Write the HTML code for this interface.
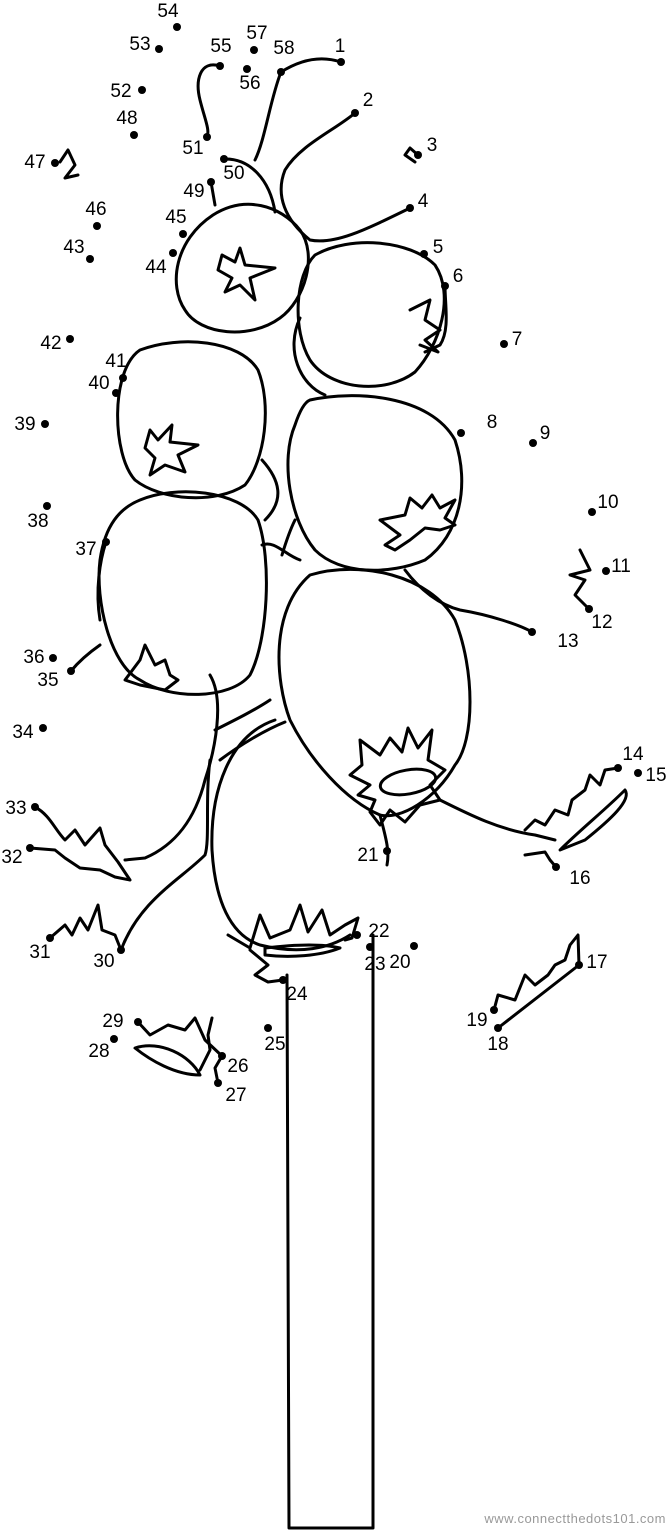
<!DOCTYPE html>
<html><head><meta charset="utf-8"><style>
html,body{margin:0;padding:0;background:#fff;}
svg{display:block;}
text{font-family:"Liberation Sans",sans-serif;font-size:19px;fill:#000;}
.l{fill:none;stroke:#000;stroke-width:3;stroke-linejoin:round;stroke-linecap:round;}
.t{fill:none;stroke:#000;stroke-width:1.5;}
</style></head><body>
<svg width="669" height="1531" viewBox="0 0 669 1531">
<!-- stem -->
<path class="l" d="M287 975 L289 1528 L373 1528 L373 935"/>
<!-- top berry -->
<path class="l" d="M213 215 C245 195 280 205 300 230 C318 255 305 300 280 318 C250 340 200 335 185 310 C168 285 175 240 213 215Z"/>
<path class="l" d="M222 255 L235 262 L240 248 L245 265 L275 268 L250 278 L255 300 L240 285 L225 292 L232 278 L218 270Z"/>
<!-- berry right 2 -->
<path class="l" d="M315 255 C350 235 410 240 435 265 C455 295 440 345 415 372 C385 395 330 390 310 360 C292 330 295 275 315 255Z"/>
<path class="l" d="M300 318 C285 350 300 385 325 395"/>
<path class="l" d="M410 310 L430 300 L425 320 L440 330 L425 340 L438 352 L420 345"/>
<!-- berry left 2 -->
<path class="l" d="M140 350 C180 335 240 340 258 370 C272 405 265 460 245 485 C215 505 160 500 135 480 C112 455 110 370 140 350Z"/>
<path class="l" d="M150 430 L158 440 L172 425 L170 442 L198 445 L178 455 L185 472 L165 465 L150 475 L155 458 L145 448Z"/>
<!-- berry mid right -->
<path class="l" d="M310 400 C355 390 430 395 455 440 C470 485 460 535 425 560 C390 575 340 575 315 550 C290 520 280 460 295 425 C300 410 305 402 310 400Z"/>
<path class="l" d="M380 520 L405 515 L410 498 L422 508 L432 495 L440 508 L455 500 L445 518 L455 525 L440 530 L425 528 L410 540 L395 550 L385 545 L400 535 Z"/>
<!-- berry left 3 -->
<path class="l" d="M140 500 C175 485 240 490 258 520 C272 560 268 640 250 675 C230 700 170 700 140 680 C110 665 95 600 100 560 C105 525 120 508 140 500Z"/>
<path class="l" d="M125 680 L140 660 L145 645 L155 665 L165 660 L170 675 L178 680 L165 690 L140 685Z"/>
<path class="l" d="M262 460 C280 480 285 500 265 520"/>
<!-- big berry -->
<path class="l" d="M310 575 C360 560 430 575 455 620 C475 670 475 740 455 765 C435 800 400 820 380 815 C345 800 310 760 290 720 C275 680 270 610 310 575Z"/>
<path class="l" d="M360 740 L380 755 L390 738 L402 752 L408 728 L418 748 L432 730 L428 760 L445 770 L430 785 L440 800 L420 805 L405 822 L390 810 L380 825 L370 812 L375 800 L358 795 L370 785 L350 775 L362 765 Z"/>
<ellipse class="l" cx="408" cy="782" rx="28" ry="12" transform="rotate(-10 408 782)"/>
<!-- lower berry -->
<path class="l" d="M275 720 C230 735 210 790 212 850 C215 900 230 935 260 945 C300 955 330 948 350 935"/>
<path class="l" d="M228 935 L250 948 L260 915 L270 938 L290 930 L300 905 L308 932 L322 910 L330 935 L345 925 L358 918 L352 938 L345 940"/>
<path class="l" d="M265 948 C290 945 320 943 340 948 C320 956 290 958 265 955Z"/>
<path class="l" d="M250 950 L268 965 L255 975 L268 982 L283 980"/>
<!-- branches -->
<path class="l" d="M281 72 C270 100 265 140 255 160"/>
<path class="l" d="M281 72 C300 60 320 55 341 62"/>
<path class="l" d="M355 113 C335 130 300 145 285 170 C275 195 285 220 310 240 C335 245 365 230 410 208"/>
<path class="l" d="M220 66 C200 60 195 80 200 100 C205 120 210 130 207 137"/>
<path class="l" d="M224 159 C250 158 270 180 275 212"/>
<path class="l" d="M211 182 L215 205"/>
<path class="l" d="M445 286 C445 305 450 330 440 345 L425 352"/>
<path class="l" d="M405 570 C420 590 440 605 460 610 C490 615 520 625 532 632"/>
<path class="l" d="M106 542 C100 560 95 590 100 620"/>
<path class="l" d="M71 671 C80 660 90 652 100 645"/>
<path class="l" d="M210 675 C225 700 215 750 205 780 C195 820 175 845 145 858 L125 860"/>
<path class="l" d="M210 760 C205 800 210 840 205 855 C180 880 140 900 121 950"/>
<path class="l" d="M215 730 C235 720 255 710 270 700"/>
<path class="l" d="M220 760 C240 745 265 730 285 722"/>
<path class="l" d="M262 545 C275 540 285 555 300 560"/>
<path class="l" d="M295 520 C290 530 285 545 282 555"/>
<path class="l" d="M440 800 C470 815 500 830 535 835 L555 840"/>
<path class="l" d="M380 815 C385 835 390 850 387 865"/>
<!-- leaves -->
<path class="l" d="M35 807 C50 815 55 830 65 840 L75 830 L85 845 L100 828 L105 845 L118 862 L130 880 L115 877 L100 870 L80 868 L65 858 L55 850 L30 848"/>
<path class="l" d="M50 938 L65 925 L72 935 L80 918 L88 930 L98 905 L102 930 L115 935 L121 950"/>
<path class="l" d="M525 830 L535 820 L545 825 L555 810 L568 815 L572 800 L585 790 L590 775 L600 785 L605 770 L618 768"/>
<path class="l" d="M525 855 L545 852 L550 860 L556 867"/>
<path class="l" d="M560 850 C580 830 605 810 625 790 C632 800 610 820 585 840 Z"/>
<path class="l" d="M494 1010 L498 995 L515 1000 L525 975 L535 985 L548 975 L555 965 L565 960 L570 945 L578 935 L579 965"/>
<path class="l" d="M498 1028 L579 965"/>
<path class="l" d="M138 1022 L150 1035 L168 1025 L185 1030 L195 1018 L205 1040 L222 1056"/>
<path class="l" d="M135 1048 C160 1040 190 1055 200 1075 C175 1075 150 1060 135 1048Z"/>
<path class="l" d="M200 1070 L210 1050 L208 1035 L212 1018"/>
<path class="l" d="M222 1056 L215 1068 L218 1083"/>
<path class="l" d="M418 155 L410 148 L405 155 L415 162"/>
<path class="l" d="M60 162 L68 150 L75 165 L65 178 L78 175"/>
<path class="l" d="M580 550 L590 570 L570 575 L585 580 L575 595 L589 609"/>
<!-- dots -->
<g fill="#000">
<circle cx="341" cy="62" r="4"/><circle cx="355" cy="113" r="4"/><circle cx="418" cy="155" r="4"/><circle cx="410" cy="208" r="4"/>
<circle cx="424" cy="254" r="4"/><circle cx="445" cy="286" r="4"/><circle cx="504" cy="344" r="4"/><circle cx="461" cy="433" r="4"/>
<circle cx="533" cy="443" r="4"/><circle cx="592" cy="512" r="4"/><circle cx="606" cy="571" r="4"/><circle cx="589" cy="609" r="4"/>
<circle cx="532" cy="632" r="4"/><circle cx="618" cy="768" r="4"/><circle cx="638" cy="773" r="4"/><circle cx="556" cy="867" r="4"/>
<circle cx="579" cy="965" r="4"/><circle cx="498" cy="1028" r="4"/><circle cx="494" cy="1010" r="4"/><circle cx="414" cy="946" r="4"/>
<circle cx="387" cy="851" r="4"/><circle cx="357" cy="935" r="4"/><circle cx="370" cy="947" r="4"/><circle cx="283" cy="980" r="4"/>
<circle cx="268" cy="1028" r="4"/><circle cx="222" cy="1056" r="4"/><circle cx="218" cy="1083" r="4"/><circle cx="114" cy="1039" r="4"/>
<circle cx="138" cy="1022" r="4"/><circle cx="121" cy="950" r="4"/><circle cx="50" cy="938" r="4"/><circle cx="30" cy="848" r="4"/>
<circle cx="35" cy="807" r="4"/><circle cx="43" cy="728" r="4"/><circle cx="71" cy="671" r="4"/><circle cx="53" cy="658" r="4"/>
<circle cx="106" cy="542" r="4"/><circle cx="47" cy="506" r="4"/><circle cx="45" cy="424" r="4"/><circle cx="116" cy="393" r="4"/>
<circle cx="123" cy="378" r="4"/><circle cx="70" cy="339" r="4"/><circle cx="90" cy="259" r="4"/><circle cx="173" cy="253" r="4"/>
<circle cx="183" cy="234" r="4"/><circle cx="97" cy="226" r="4"/><circle cx="55" cy="163" r="4"/><circle cx="134" cy="135" r="4"/>
<circle cx="211" cy="182" r="4"/><circle cx="224" cy="159" r="4"/><circle cx="207" cy="137" r="4"/><circle cx="142" cy="90" r="4"/>
<circle cx="159" cy="49" r="4"/><circle cx="177" cy="27" r="4"/><circle cx="220" cy="66" r="4"/><circle cx="247" cy="69" r="4"/>
<circle cx="254" cy="50" r="4"/><circle cx="281" cy="72" r="4"/>
</g>
<g text-anchor="middle" dominant-baseline="middle">
<text x="340" y="47">1</text><text x="368" y="101">2</text><text x="432" y="146">3</text><text x="423" y="202">4</text>
<text x="438" y="248">5</text><text x="458" y="277">6</text><text x="517" y="340">7</text><text x="492" y="423">8</text>
<text x="545" y="434">9</text><text x="608" y="503">10</text><text x="621" y="567">11</text><text x="602" y="623">12</text>
<text x="568" y="642">13</text><text x="633" y="755">14</text><text x="656" y="776">15</text><text x="580" y="879">16</text>
<text x="597" y="963">17</text><text x="498" y="1045">18</text><text x="477" y="1021">19</text><text x="400" y="963">20</text>
<text x="368" y="856">21</text><text x="379" y="932">22</text><text x="375" y="965">23</text><text x="297" y="995">24</text>
<text x="275" y="1045">25</text><text x="238" y="1067">26</text><text x="236" y="1096">27</text><text x="99" y="1052">28</text>
<text x="113" y="1022">29</text><text x="104" y="962">30</text><text x="40" y="953">31</text><text x="12" y="858">32</text>
<text x="16" y="809">33</text><text x="23" y="733">34</text><text x="48" y="681">35</text><text x="34" y="658">36</text>
<text x="86" y="550">37</text><text x="38" y="522">38</text><text x="25" y="425">39</text><text x="99" y="384">40</text>
<text x="116" y="362">41</text><text x="51" y="344">42</text><text x="74" y="248">43</text><text x="156" y="268">44</text>
<text x="176" y="218">45</text><text x="96" y="210">46</text><text x="35" y="163">47</text><text x="127" y="119">48</text>
<text x="194" y="192">49</text><text x="234" y="174">50</text><text x="193" y="149">51</text><text x="121" y="92">52</text>
<text x="140" y="45">53</text><text x="168" y="12">54</text><text x="221" y="47">55</text><text x="250" y="84">56</text>
<text x="257" y="34">57</text><text x="284" y="49">58</text>
</g>
<text x="666" y="1523" text-anchor="end" style="font-size:13px;fill:#999;letter-spacing:0.5px">www.connectthedots101.com</text>
</svg>
</body></html>
